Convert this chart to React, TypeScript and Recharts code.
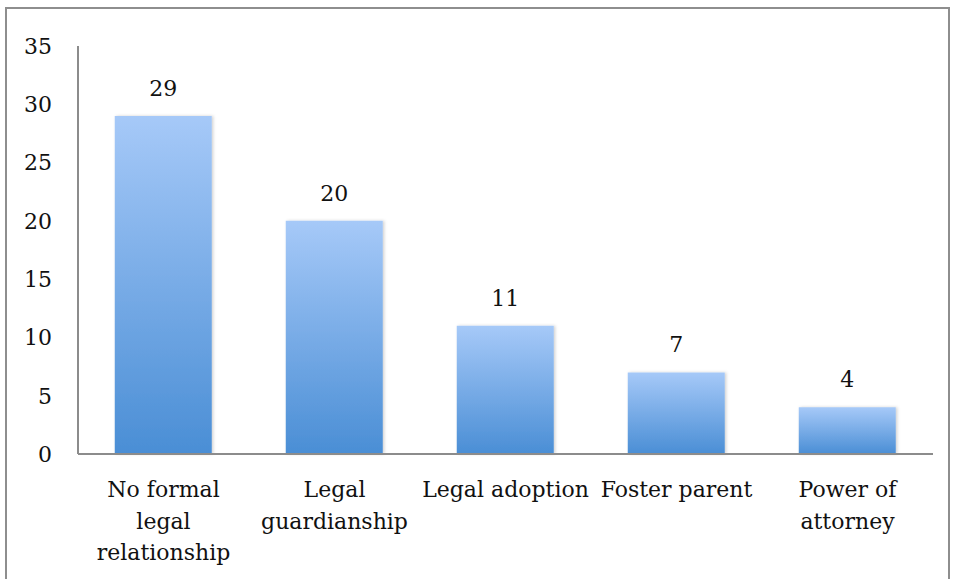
import React from "react";
import { BarChart, Bar, XAxis, YAxis, LabelList } from "recharts";

const categories = [
  "No formal\nlegal\nrelationship",
  "Legal\nguardianship",
  "Legal adoption",
  "Foster parent",
  "Power of\nattorney",
];
const values = [29, 20, 11, 7, 4];
const yTicks = [0, 5, 10, 15, 20, 25, 30, 35];

const data = categories.map((c, i) => ({ name: c, value: values[i] }));

const FONT = "'DejaVu Serif', serif";

const XTick = (props: any) => {
  const { x, y, payload } = props;
  const lines = String(payload.value).split("\n");
  return (
    <text x={x} y={y} textAnchor="middle" fill="#111" fontFamily={FONT} fontSize={22}>
      {lines.map((l: string, i: number) => (
        <tspan key={i} x={x} y={y + 43 + i * 31.5}>
          {l}
        </tspan>
      ))}
    </text>
  );
};

const ValueLabel = (props: any) => {
  const { x, y, width, value } = props;
  return (
    <text
      x={x + width / 2}
      y={y - 20}
      textAnchor="middle"
      fill="#111"
      fontFamily={FONT}
      fontSize={22}
    >
      {value}
    </text>
  );
};

export default function App() {
  return (
    <div
      style={{
        position: "absolute",
        left: 0,
        top: 0,
        width: 955,
        height: 579,
        background: "#fff",
        overflow: "hidden",
      }}
    >
      <div
        style={{
          position: "absolute",
          left: 5,
          top: 7,
          width: 941,
          height: 620,
          border: "2px solid #8e8e8e",
        }}
      />
      <div style={{ position: "absolute", left: 0, top: 0 }}>
        <BarChart
          width={955}
          height={579}
          data={data}
          margin={{ top: 46, right: 22, bottom: 25, left: 0 }}
          barCategoryGap="21.5%"
        >
          <defs>
            <linearGradient id="barGrad" x1="0" y1="0" x2="0" y2="1">
              <stop offset="0%" stopColor="#a6c9f8" />
              <stop offset="100%" stopColor="#4a8ed5" />
            </linearGradient>
            <filter id="barShadow" x="-10%" y="-10%" width="130%" height="120%">
              <feDropShadow dx="1.5" dy="0" stdDeviation="1.5" floodColor="#000" floodOpacity="0.18" />
            </filter>
          </defs>
          <XAxis
            dataKey="name"
            height={100}
            axisLine={{ stroke: "#8c8c8c", strokeWidth: 2 }}
            tickLine={false}
            tickSize={0}
            tickMargin={0}
            interval={0}
            tick={<XTick />}
          />
          <YAxis
            width={78}
            domain={[0, 35]}
            ticks={yTicks}
            interval={0}
            axisLine={{ stroke: "#8c8c8c", strokeWidth: 2 }}
            tickLine={false}
            tickSize={0}
            tickMargin={26}
            tick={{ fill: "#111", fontFamily: FONT, fontSize: 22 }}
          />
          <Bar
            dataKey="value"
            fill="url(#barGrad)"
            filter="url(#barShadow)"
            isAnimationActive={false}
          >
            <LabelList dataKey="value" content={<ValueLabel />} />
          </Bar>
        </BarChart>
      </div>
    </div>
  );
}
